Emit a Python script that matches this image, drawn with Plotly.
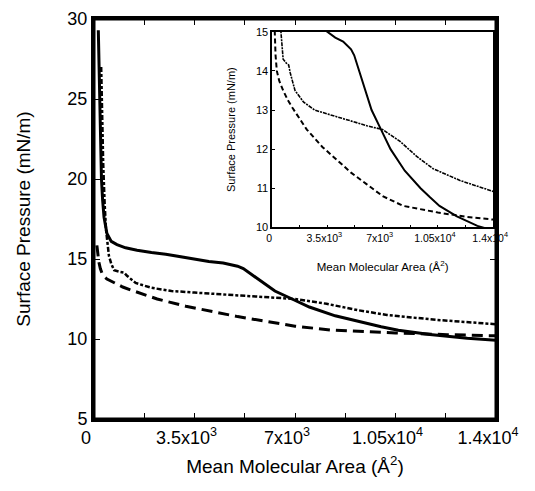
import plotly.graph_objects as go

# ---- data ----
solid_area = [150, 180, 200, 230, 260, 300, 350, 450, 600, 800, 1100, 1500, 2000, 2500,
              3000, 3500, 4000, 4500, 5000, 5200, 5600, 6000, 6300, 6900, 7500, 8400,
              9400, 10000, 10600, 11700, 13000, 14000]
solid_pressure = [29.3, 27.0, 25.0, 22.0, 20.0, 18.7, 17.6, 16.6, 16.1, 15.9, 15.7, 15.55,
                  15.4, 15.3, 15.15, 15.0, 14.85, 14.75, 14.55, 14.4, 13.9, 13.4, 13.0,
                  12.5, 12.0, 11.45, 11.0, 10.77, 10.55, 10.28, 10.04, 9.92]

dashdot_area = [250, 280, 320, 370, 420, 470, 520, 600, 700, 900, 1050, 1150, 1450, 2000,
                2700, 3500, 5100, 6000, 7000, 8100, 9200, 10200, 11900, 14000]
dashdot_pressure = [27.0, 24.0, 21.0, 18.5, 16.8, 16.0, 15.2, 14.7, 14.3, 14.2, 14.15,
                    13.95, 13.5, 13.2, 13.0, 12.9, 12.7, 12.6, 12.5, 12.2, 11.8, 11.5,
                    11.2, 10.92]

dashed_area = [100, 130, 170, 220, 300, 450, 700, 1000, 1300, 1700, 2200, 3200, 4300, 5000,
               6000, 7000, 8300, 9500, 10500, 12300, 14000]
dashed_pressure = [15.85, 15.3, 14.8, 14.4, 14.0, 13.75, 13.5, 13.25, 13.05, 12.8, 12.5,
                   12.05, 11.65, 11.4, 11.1, 10.8, 10.55, 10.45, 10.38, 10.27, 10.2]

x_tick_vals = [0, 3500, 7000, 10500, 14000]
x_tick_text = ["0", "3.5x10<sup>3</sup>", "7x10<sup>3</sup>", "1.05x10<sup>4</sup>", "1.4x10<sup>4</sup>"]
main_y_ticks = [5, 10, 15, 20, 25, 30]
inset_y_ticks = [10, 11, 12, 13, 14, 15]

FONT = "Liberation Sans, Arial, Helvetica, sans-serif"

fig = go.Figure()

# main traces
fig.add_trace(go.Scatter(x=solid_area, y=solid_pressure, mode="lines",
                         line=dict(color="black", width=3), xaxis="x", yaxis="y"))
fig.add_trace(go.Scatter(x=dashdot_area, y=dashdot_pressure, mode="lines",
                         line=dict(color="black", width=2.5, dash="5px,2px,3px,2px"),
                         xaxis="x", yaxis="y"))
fig.add_trace(go.Scatter(x=dashed_area, y=dashed_pressure, mode="lines",
                         line=dict(color="black", width=3, dash="11px,6px"),
                         xaxis="x", yaxis="y"))

# inset traces
fig.add_trace(go.Scatter(x=solid_area, y=solid_pressure, mode="lines",
                         line=dict(color="black", width=2), xaxis="x2", yaxis="y2"))
fig.add_trace(go.Scatter(x=dashdot_area, y=dashdot_pressure, mode="lines",
                         line=dict(color="black", width=1.6, dash="4px,1px,2px,1px"),
                         xaxis="x2", yaxis="y2"))
fig.add_trace(go.Scatter(x=dashed_area, y=dashed_pressure, mode="lines",
                         line=dict(color="black", width=2, dash="5px,3px"),
                         xaxis="x2", yaxis="y2"))

fig.update_layout(
    width=527, height=483,
    margin=dict(l=86, r=39, t=11, b=72, autoexpand=False),
    paper_bgcolor="white", plot_bgcolor="white",
    showlegend=False,
    font=dict(family=FONT, color="black"),
    xaxis=dict(
        domain=[0, 1], range=[0, 14000], automargin=False,
        tickvals=x_tick_vals, ticktext=x_tick_text,
        ticks="inside", ticklen=6, tickwidth=1, tickcolor="black",
        minor=dict(dtick=1750, tick0=0, ticks="inside", ticklen=6, tickcolor="black"),
        showline=True, linewidth=3, linecolor="black", mirror="allticks",
        showgrid=False, zeroline=False,
        tickfont=dict(size=18, family=FONT),
        ticklabelshift=-8,
        title=dict(text="Mean Molecular Area (Å<sup>2</sup>)", font=dict(size=19, family=FONT), standoff=14),
    ),
    yaxis=dict(
        domain=[0, 1], range=[5, 30], automargin=False,
        tickvals=main_y_ticks,
        ticks="inside", ticklen=6, tickwidth=1, tickcolor="black",
        showline=True, linewidth=3, linecolor="black", mirror="allticks",
        showgrid=False, zeroline=False,
        tickfont=dict(size=18, family=FONT),
        title=dict(text="Surface Pressure (mN/m)", font=dict(size=19, family=FONT), standoff=32),
    ),
    xaxis2=dict(
        domain=[0.443, 0.993], range=[0, 14000], anchor="y2", automargin=False,
        tickvals=x_tick_vals, ticktext=x_tick_text,
        ticks="inside", ticklen=3, tickwidth=1, tickcolor="black",
        minor=dict(dtick=1750, tick0=0, ticks="inside", ticklen=3, tickcolor="black"),
        showline=True, linewidth=1.5, linecolor="black", mirror=True,
        showgrid=False, zeroline=False,
        tickfont=dict(size=10.5, family=FONT),
        ticklabelshift=-3,
        title=dict(text="Mean Molecular Area (Å<sup>2</sup>)", font=dict(size=11.5, family=FONT), standoff=20),
    ),
    yaxis2=dict(
        domain=[0.479, 0.968], range=[10, 15], anchor="x2", automargin=False,
        tickvals=inset_y_ticks,
        ticks="inside", ticklen=3, tickwidth=1, tickcolor="black",
        showline=True, linewidth=1.5, linecolor="black", mirror=True,
        showgrid=False, zeroline=False,
        tickfont=dict(size=11, family=FONT),
        title=dict(text="Surface Pressure (mN/m)", font=dict(size=11, family=FONT), standoff=18),
    ),
    shapes=[
        dict(type="rect", xref="x domain", yref="y domain", x0=0, x1=1, y0=0, y1=1,
             line=dict(color="black", width=3), layer="above"),
    ],
)

fig.write_html("out.html")
